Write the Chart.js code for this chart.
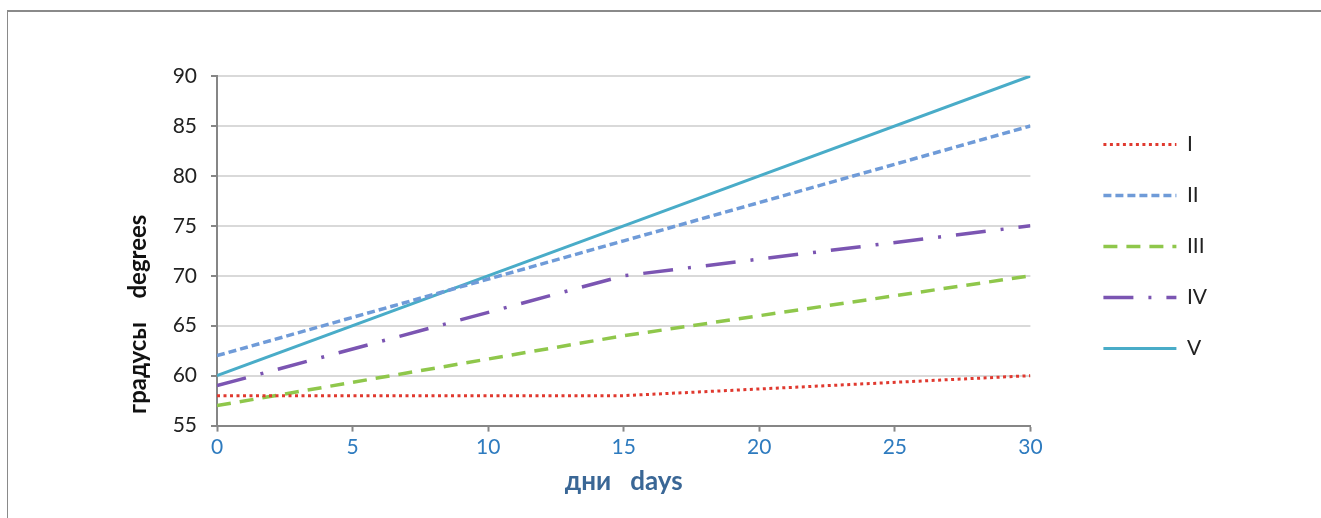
<!DOCTYPE html>
<html>
<head>
<meta charset="utf-8">
<script src="https://cdn.jsdelivr.net/npm/chart.js"></script>
<style>
    body { margin: 0; background: #fff; }
    #wrap { position: relative; width: 1321px; height: 518px; }
    #frame {
        position: absolute; left: 7px; top: 10px; right: 0; bottom: 0;
        border-top: 2px solid #8a8a8a; border-left: 1px solid #8a8a8a;
        pointer-events: none;
    }
</style>
</head>
<body>
<div id="wrap">
    <canvas id="temp-chart" width="1321" height="518"></canvas>
    <div id="frame"></div>
</div>
<script>
// дни / days
const days = [0, 15, 30];

// градусы / degrees
const seriesNames = ['I', 'II', 'III', 'IV', 'V'];
const seriesI = [58, 58, 60];
const seriesII = [62, 73.5, 85];
const seriesIII = [57, 64, 70];
const seriesIV = [59, 70, 75];
const seriesV = [60, 75, 90];

const yTitle = '  градусы    degrees';
const xTitle = 'дни   days';

const toPoints = (values) => values.map((v, i) => ({ x: days[i], y: v }));

const lineSet = (label, values, color, dash, width) => ({
    label: label,
    data: toPoints(values),
    borderColor: color,
    backgroundColor: color,
    borderWidth: width,
    borderDash: dash,
    borderCapStyle: 'butt',
    pointRadius: 0,
    tension: 0,
    fill: false
});

// легенда: штрихи как у линий
const legendLabels = (chart) => {
    const items = Chart.defaults.plugins.legend.labels.generateLabels(chart);
    return items.map((item) => {
        const ds = chart.data.datasets[item.datasetIndex];
        item.lineDash = ds.borderDash;
        item.lineWidth = ds.borderWidth;
        item.strokeStyle = ds.borderColor;
        item.lineCap = 'butt';
        return item;
    });
};

const ctx = document.getElementById('temp-chart').getContext('2d');

new Chart(ctx, {
    type: 'line',
    data: {
        datasets: [
            lineSet(seriesNames[0], seriesI, '#e0392f', [3, 3.5], 3),
            lineSet(seriesNames[1], seriesII, '#6f9bd8', [8, 4], 3.5),
            lineSet(seriesNames[2], seriesIII, '#8fc74b', [14, 9], 3.5),
            lineSet(seriesNames[3], seriesIV, '#7b55b2', [30, 15, 3, 15], 3.5),
            lineSet(seriesNames[4], seriesV, '#49acc8', [], 3)
        ]
    },
    options: {
        responsive: false,
        animation: false,
        layout: { padding: { top: 76, right: 104, bottom: 9, left: 0 } },
        plugins: {
            legend: {
                position: 'right',
                fullSize: false,
                align: 'start',
                // пустой заголовок - сдвигает легенду вниз
                title: { display: true, text: ' ', font: { size: 10 }, padding: { top: 0, bottom: 16 } },
                labels: {
                    usePointStyle: true,
                    pointStyle: 'line',
                    pointStyleWidth: 73,
                    padding: 30,
                    color: '#222',
                    font: { family: 'Lato', size: 21 },
                    generateLabels: legendLabels
                }
            },
            tooltip: { enabled: false }
        },
        scales: {
            x: {
                type: 'linear',
                min: 0,
                max: 30,
                border: { color: '#868686', width: 2 },
                grid: { drawOnChartArea: false, tickLength: 6, tickColor: '#868686', tickWidth: 2 },
                ticks: {
                    stepSize: 5,
                    padding: 3,
                    color: '#2e7bbf',
                    font: { family: 'Lato', size: 21 }
                },
                title: {
                    display: true,
                    text: xTitle,
                    color: '#3a6796',
                    font: { family: 'Lato', size: 26, weight: 'bold' },
                    padding: { top: 3, bottom: 12 }
                }
            },
            y: {
                min: 55,
                max: 90,
                border: { color: '#868686', width: 2 },
                grid: { color: '#d9d9d9', lineWidth: 2, tickLength: 6, tickColor: '#868686' },
                ticks: {
                    stepSize: 5,
                    padding: 14,
                    color: '#222',
                    font: { family: 'Lato', size: 21 }
                },
                title: {
                    display: true,
                    text: yTitle,
                    align: 'start',
                    color: '#111',
                    font: { family: 'Lato', size: 24, weight: 'bold' },
                    padding: { top: 124, bottom: 0 }
                },
                afterFit: (axis) => { axis.width = 217; }
            },
            // пустая ось справа: отступ до легенды
            gap: {
                position: 'right',
                display: true,
                grid: { display: false },
                border: { display: false },
                ticks: { display: false },
                afterFit: (axis) => { axis.width = 43; }
            }
        }
    }
});
</script>
</body>
</html>
